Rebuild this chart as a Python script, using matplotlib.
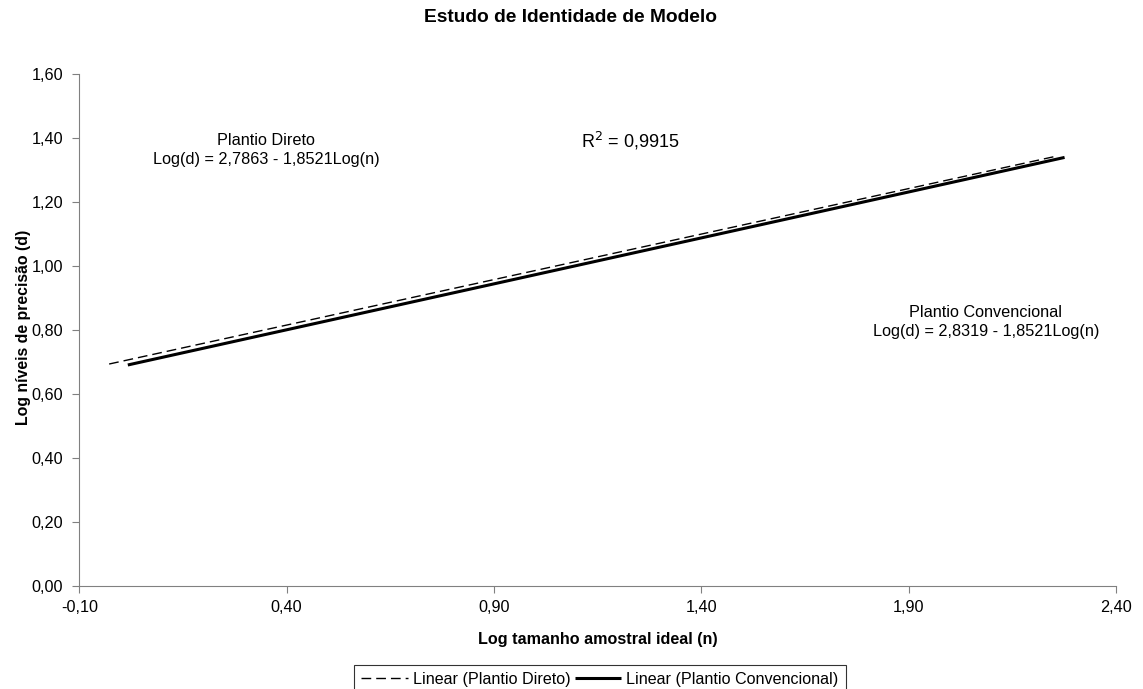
import matplotlib.pyplot as plt
from matplotlib.ticker import FuncFormatter

plt.rcParams['font.family'] = ['Liberation Sans', 'DejaVu Sans']

# Trend lines (log n, log d)
x_direto = [-0.028, 2.26]
y_direto = [0.693, 1.343]
x_conv = [0.017, 2.276]
y_conv = [0.690, 1.338]

x_ticks = [-0.10, 0.40, 0.90, 1.40, 1.90, 2.40]
y_ticks = [0.00, 0.20, 0.40, 0.60, 0.80, 1.00, 1.20, 1.40, 1.60]

eq_direto = "Plantio Direto\nLog(d) = 2,7863 - 1,8521Log(n)"
eq_conv = "Plantio Convencional\nLog(d) = 2,8319 - 1,8521Log(n)"
r2_text = "R$^2$ = 0,9915"

W, H = 1143, 689
fig = plt.figure(figsize=(W / 100, H / 100), dpi=100)
ax = fig.add_axes([79.3 / W, 1 - 586 / H, (1116 - 79.3) / W, (586 - 73.5) / H])

ax.plot(x_direto, y_direto, color='black', lw=1.0, ls=(0, (7, 3.6)),
        label='Linear (Plantio Direto)')
ax.plot(x_conv, y_conv, color='black', lw=2.2, solid_capstyle='butt',
        label='Linear (Plantio Convencional)')

ax.set_xlim(-0.10, 2.40)
ax.set_ylim(0, 1.60)
ax.set_xticks(x_ticks)
ax.set_yticks(y_ticks)
comma = FuncFormatter(lambda v, p: f"{v:.2f}".replace('.', ','))
ax.xaxis.set_major_formatter(comma)
ax.yaxis.set_major_formatter(comma)
ax.tick_params(labelsize=11.7, length=5, color='#808080')
ax.tick_params(axis='x', pad=5)
ax.tick_params(axis='y', pad=6.5)

for s in ['top', 'right']:
    ax.spines[s].set_visible(False)
for s in ['left', 'bottom']:
    ax.spines[s].set_color('#808080')

ax.set_xlabel('Log tamanho amostral ideal (n)', fontsize=11.6, fontweight='bold', labelpad=12)
fig.text(24 / W, 1 - 327 / H, 'Log níveis de precisão (d)', rotation=90, ha='center',
         va='center', fontsize=11.4, fontweight='bold')

fig.text(570 / W, 1 - 17.5 / H, 'Estudo de Identidade de Modelo', ha='center', va='center',
         fontsize=13.8, fontweight='bold')

ax.text(0.351, 1.36, eq_direto, ha='center', va='center', fontsize=11.7, linespacing=1.32)
ax.text(2.086, 0.824, eq_conv, ha='center', va='center', fontsize=11.7, linespacing=1.32)
ax.text(1.228, 1.39, r2_text, ha='center', va='center', fontsize=13)

leg = fig.legend(loc='lower center', bbox_to_anchor=(600 / W, -5 / H), ncol=2,
                 fontsize=11.6, frameon=True, fancybox=False, edgecolor='black',
                 handlelength=2.9, handletextpad=0.3, columnspacing=0.25,
                 borderpad=0.45, borderaxespad=0)
leg.get_frame().set_linewidth(0.8)

fig.savefig('out.png', dpi=100)
